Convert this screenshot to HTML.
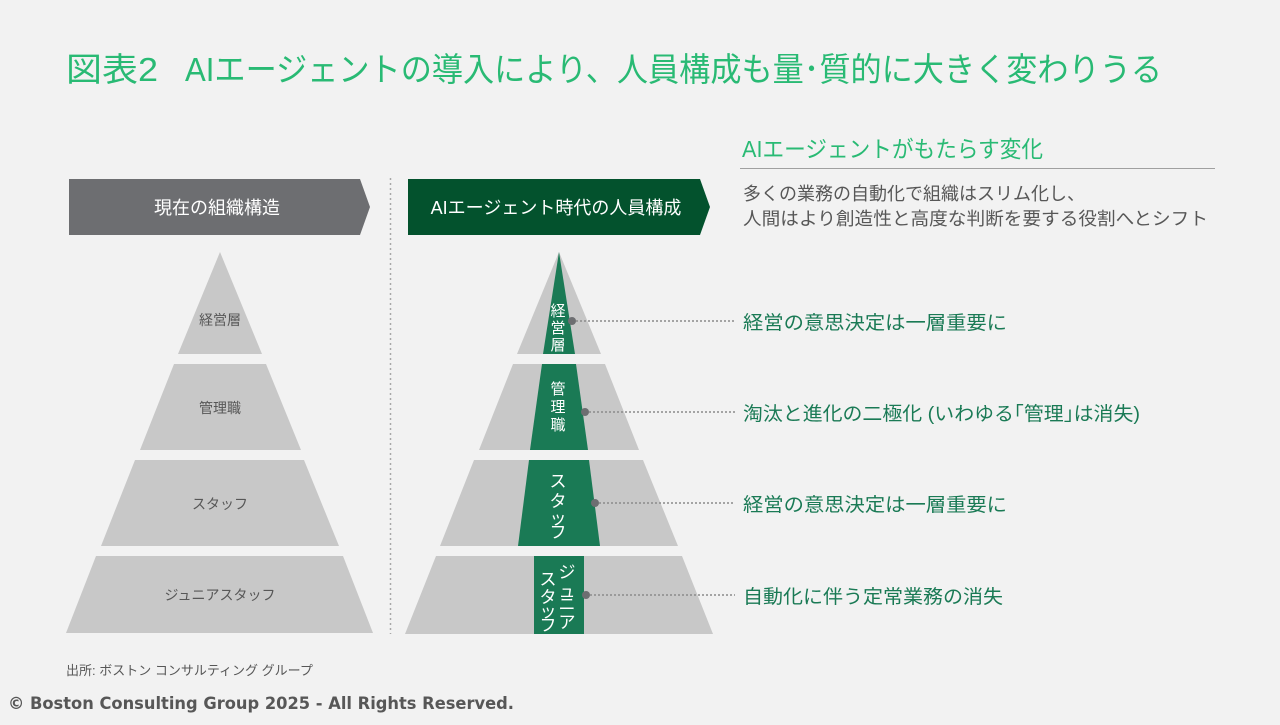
<!DOCTYPE html>
<html><head><meta charset="utf-8"><style>
html,body{margin:0;padding:0;background:#f2f2f2;}
body{width:1280px;height:720px;overflow:hidden;font-family:"Liberation Sans","Noto Sans CJK JP",sans-serif;}
</style></head><body>
<svg width="1280" height="720" viewBox="0 0 1280 720" xmlns="http://www.w3.org/2000/svg" font-family="Liberation Sans, Noto Sans CJK JP, sans-serif">
<rect width="1280" height="720" fill="#f2f2f2"/>
<text x="66" y="81" font-size="33" fill="#29ba74" textLength="92" lengthAdjust="spacingAndGlyphs">図表2</text>
<text x="185" y="81" font-size="33" fill="#29ba74" textLength="977" lengthAdjust="spacingAndGlyphs">AIエージェントの導入により、人員構成も量･質的に大きく変わりうる</text>

<text x="742" y="157" font-size="23" fill="#29ba74" textLength="301" lengthAdjust="spacingAndGlyphs">AIエージェントがもたらす変化</text>
<line x1="740" y1="168.5" x2="1215" y2="168.5" stroke="#a0a0a0" stroke-width="1"/>
<text x="743" y="200" font-size="18" fill="#575757" textLength="342" lengthAdjust="spacingAndGlyphs">多くの業務の自動化で組織はスリム化し、</text>
<text x="743" y="225" font-size="18" fill="#575757" textLength="465" lengthAdjust="spacingAndGlyphs">人間はより創造性と高度な判断を要する役割へとシフト</text>

<polygon points="69,179 360,179 370,207 360,235 69,235" fill="#6d6e71"/>
<text x="217" y="214" font-size="18" fill="#fff" text-anchor="middle">現在の組織構造</text>
<polygon points="408,179 700,179 710,207 700,235 408,235" fill="#03522d"/>
<text x="556" y="214" font-size="18" fill="#fff" text-anchor="middle">AIエージェント時代の人員構成</text>

<line x1="390.5" y1="178" x2="390.5" y2="634" stroke="#a8a8a8" stroke-width="1.5" stroke-dasharray="2,3"/>

<g fill="#c8c8c8">
<polygon points="220,252 262,354 178,354"/>
<polygon points="174,364 266,364 301,450 140,450"/>
<polygon points="135,460 304,460 339,546 101,546"/>
<polygon points="96,556 343,556 373,633 66,633"/>
</g>
<g font-size="14" fill="#575757" text-anchor="middle">
<text x="220" y="325">経営層</text>
<text x="220" y="413">管理職</text>
<text x="220" y="509">スタッフ</text>
<text x="220" y="600">ジュニアスタッフ</text>
</g>

<g fill="#c8c8c8">
<polygon points="559,252 601,354 517,354"/>
<polygon points="513,364 605,364 639,450 479,450"/>
<polygon points="474,460 643,460 678,546 440,546"/>
<polygon points="436,556 682,556 713,634 405,634"/>
</g>
<g fill="#1a7a55">
<polygon points="559,252 575,354 543,354"/>
<polygon points="542,364 576,364 588,450 530,450"/>
<polygon points="529,460 589,460 600,546 518,546"/>
<rect x="534" y="556" width="50" height="78"/>
</g>
<g fill="#fff" font-size="15" text-anchor="middle">
<text x="558" y="316">経</text><text x="558" y="333">営</text><text x="558" y="350">層</text>
<text x="558" y="394">管</text><text x="558" y="412">理</text><text x="558" y="430">職</text>
<text x="558" y="487" font-size="17">ス</text><text x="558" y="507" font-size="17">タ</text><text x="558" y="524" font-size="17">ッ</text><text x="558" y="538" font-size="17">フ</text>
<text x="567" y="578" font-size="17">ジ</text><text x="567" y="597" font-size="17">ュ</text><text x="567" y="610" font-size="17">ニ</text><text x="567" y="628" font-size="17">ア</text>
<text x="548" y="585" font-size="17">ス</text><text x="548" y="603" font-size="17">タ</text><text x="548" y="617" font-size="17">ッ</text><text x="548" y="631" font-size="17">フ</text>
</g>
<g stroke="#8a8a8a" stroke-width="1.5" stroke-dasharray="2,2">
<line x1="572" y1="321" x2="735" y2="321"/>
<line x1="585" y1="412" x2="735" y2="412"/>
<line x1="595" y1="503" x2="735" y2="503"/>
<line x1="586" y1="595" x2="735" y2="595"/>
</g>
<g fill="#6d6e71">
<circle cx="572" cy="321" r="4"/><circle cx="585" cy="412" r="4"/><circle cx="595" cy="503" r="4"/><circle cx="586" cy="595" r="4"/>
</g>
<g font-size="19" fill="#1a7a55">
<text x="743" y="329" textLength="264" lengthAdjust="spacingAndGlyphs">経営の意思決定は一層重要に</text>
<text x="743" y="420" textLength="397" lengthAdjust="spacingAndGlyphs">淘汰と進化の二極化 (いわゆる｢管理｣は消失)</text>
<text x="743" y="511" textLength="264" lengthAdjust="spacingAndGlyphs">経営の意思決定は一層重要に</text>
<text x="743" y="603" textLength="260" lengthAdjust="spacingAndGlyphs">自動化に伴う定常業務の消失</text>
</g>

<text x="66" y="675" font-size="13" fill="#575757">出所: ボストン コンサルティング グループ</text>
<text x="8" y="709" font-size="17" font-weight="bold" fill="#575757" font-family="DejaVu Sans, sans-serif" textLength="506" lengthAdjust="spacingAndGlyphs">© Boston Consulting Group 2025 - All Rights Reserved.</text>
</svg>
</body></html>
